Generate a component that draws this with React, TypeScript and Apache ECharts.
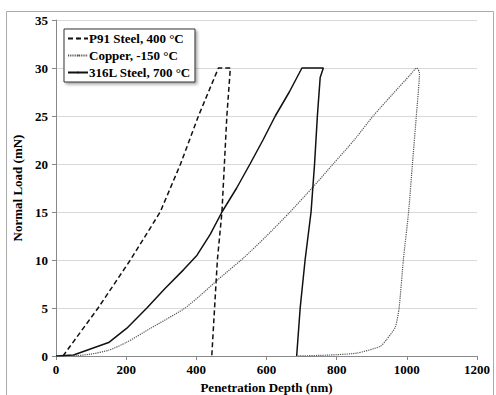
import React, { useEffect, useRef } from "react";
import * as echarts from "echarts";

const seriesNames = ["P91 Steel, 400 °C", "Copper, -150 °C", "316L Steel, 700 °C"];

const p91Data: [number, number][] = [
  [20, 0], [120, 5], [212, 10], [297, 15], [355, 20], [406, 25], [463, 30], [497, 30],
  [487, 25], [480, 20], [473, 15], [460, 10], [452, 5], [444, 0],
];

const copperData: [number, number][] = [
  [50, 0], [100, 0.2], [150, 0.6], [200, 1.4], [270, 2.9], [364, 4.9], [411, 6.3], [463, 8.0],
  [534, 10.2], [600, 12.5], [667, 15.0], [730, 17.5], [790, 20], [850, 22.5], [904, 25],
  [960, 27.3], [1010, 29.3], [1028, 30], [1036, 29.5], [1027, 25], [1016, 20], [1005, 15],
  [990, 10], [978, 5], [967, 3], [942, 1.7], [924, 1], [857, 0.3], [780, 0.1], [690, 0],
];

const steel316Data: [number, number][] = [
  [0, 0], [50, 0.1], [150, 1.4], [202, 2.9], [259, 5], [310, 7], [364, 9], [402, 10.5],
  [440, 12.7], [473, 15], [515, 17.5], [553, 20], [590, 22.5], [625, 25], [665, 27.5],
  [701, 30], [762, 30], [753, 29], [745, 25], [737, 20], [727, 15], [710, 10], [696, 5], [686, 0],
];

const FONT = "'Times New Roman', 'Liberation Serif', Tinos, 'DejaVu Serif', serif";

export default function App() {
  const ref = useRef<HTMLDivElement>(null);
  useEffect(() => {
    if (!ref.current) return;
    const chart = echarts.init(ref.current, null, { renderer: "svg" });
    chart.setOption({
      animation: false,
      backgroundColor: "#fff",
      textStyle: { fontFamily: FONT },
      grid: { left: 56, right: 19, top: 20, bottom: 39, containLabel: false, outerBoundsMode: "none" },
      legend: {
        left: 64,
        top: 29,
        orient: "vertical",
        backgroundColor: "#fff",
        borderColor: "#333",
        borderWidth: 1,
        shadowColor: "rgba(0,0,0,0.35)",
        shadowBlur: 3,
        shadowOffsetX: 2,
        shadowOffsetY: 2,
        padding: [3, 4, 3, 3],
        itemGap: 4,
        itemWidth: 20,
        itemHeight: 2,
        textStyle: { fontFamily: FONT, fontWeight: "bold", fontSize: 13, color: "#000", padding: [0, 0, 0, -4] },
        data: seriesNames,
      },
      graphic: [
        {
          type: "rect",
          left: 4,
          top: 9,
          shape: { width: 487, height: 395 },
          style: { fill: "none", stroke: "#aaa", lineWidth: 1 },
          silent: true,
          z: -1,
        },
      ],
      xAxis: {
        type: "value",
        min: 0,
        max: 1200,
        interval: 200,
        name: "Penetration Depth (nm)",
        nameLocation: "middle",
        nameGap: 23,
        nameTextStyle: { fontFamily: FONT, fontWeight: "bold", fontSize: 13, color: "#000" },
        axisLine: { show: true, lineStyle: { color: "#888", width: 1 } },
        axisTick: { show: true, length: 4, lineStyle: { color: "#888" } },
        axisLabel: {
          fontFamily: FONT, fontWeight: "bold", fontSize: 13, color: "#000", margin: 7,
          formatter: (v: number) => String(v),
        },
        splitLine: { show: false },
      },
      yAxis: {
        type: "value",
        min: 0,
        max: 35,
        interval: 5,
        name: "Normal Load (mN)",
        nameLocation: "middle",
        nameGap: 30,
        nameTextStyle: { fontFamily: FONT, fontWeight: "bold", fontSize: 13, color: "#000" },
        axisLine: { show: true, lineStyle: { color: "#888", width: 1 } },
        axisTick: { show: true, length: 4, lineStyle: { color: "#888" } },
        axisLabel: {
          fontFamily: FONT, fontWeight: "bold", fontSize: 13, color: "#000", margin: 8,
          formatter: (v: number) => String(v),
        },
        splitLine: { show: true, lineStyle: { color: "#d9d9d9", width: 1 } },
      },
      series: [
        {
          name: seriesNames[0],
          type: "line",
          data: p91Data,
          symbol: "none",
          lineStyle: { color: "#111", width: 1.5, type: [5, 3] },
          itemStyle: { color: "#111" },
        },
        {
          name: seriesNames[1],
          type: "line",
          data: copperData,
          symbol: "none",
          smooth: 0.2,
          lineStyle: { color: "#555", width: 1.2, type: [1.2, 1] },
          itemStyle: { color: "#555" },
        },
        {
          name: seriesNames[2],
          type: "line",
          data: steel316Data,
          symbol: "none",
          lineStyle: { color: "#111", width: 1.5, type: "solid" },
          itemStyle: { color: "#111" },
        },
      ],
    });
    return () => chart.dispose();
  }, []);
  return <div ref={ref} style={{ position: "fixed", left: 0, top: 0, width: 496, height: 395 }} />;
}
